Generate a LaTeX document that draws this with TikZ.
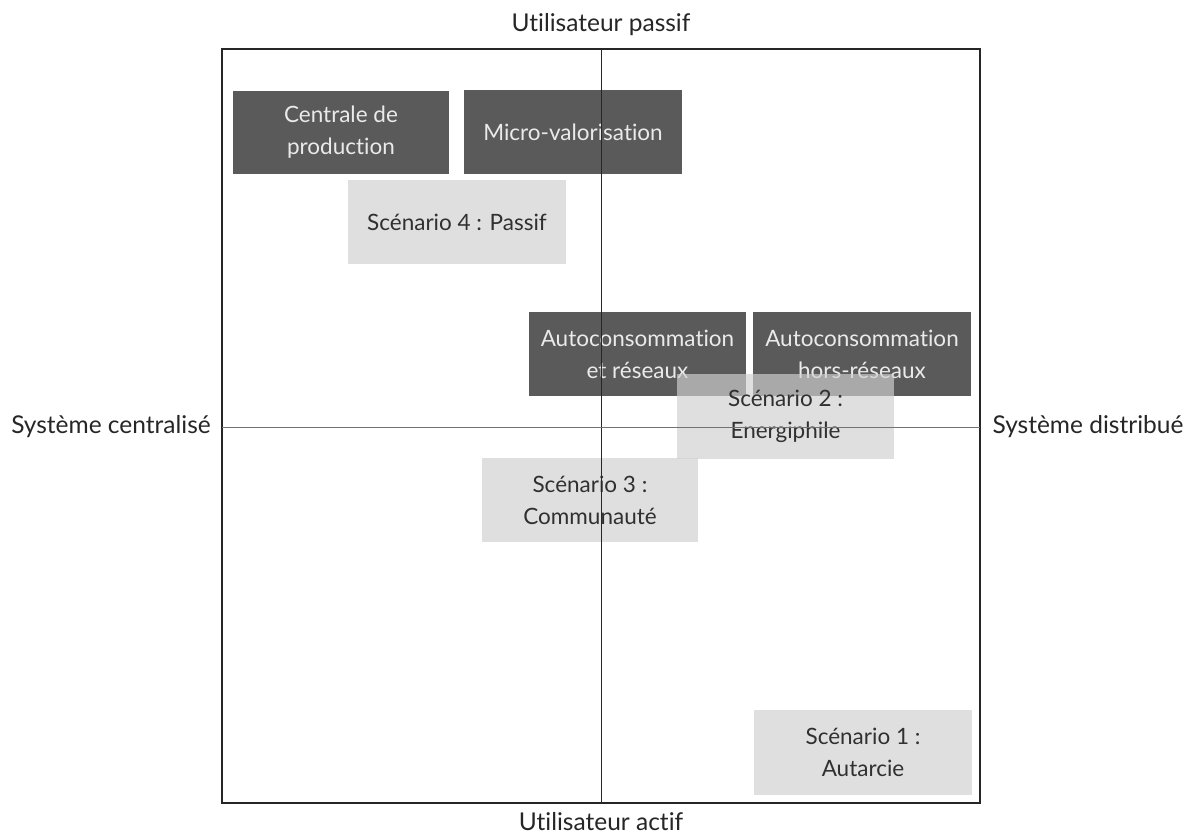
\documentclass[tikz,border=0pt]{standalone}
\usepackage{fontspec}
\setmainfont{Lato}[Ligatures=NoCommon]
\definecolor{darkbox}{HTML}{5A5A5A}
\definecolor{lightbox}{HTML}{D0D0D0}
\definecolor{darktext}{HTML}{EAEAEA}
\definecolor{lighttext}{HTML}{303030}
\begin{document}
\begin{tikzpicture}[x=1pt,y=-1pt,
  every node/.style={font=\fontsize{22.5}{32}\selectfont},
  darkbx/.style={rectangle, fill=darkbox, text=darktext, inner sep=0pt, align=center},
  lightbx/.style={rectangle, fill=lightbox, fill opacity=0.67, text opacity=1, text=lighttext, inner sep=0pt, align=center},
  axislabel/.style={text=black!85, font=\fontsize{24.5}{30}\selectfont}]
\useasboundingbox (0,0) rectangle (1195,838);
% dark boxes
\node[darkbx, minimum width=216pt, minimum height=83pt] (cp) at (341,132.5) {Centrale de\\production};
\node[darkbx, minimum width=218pt, minimum height=84pt] (mv) at (573,132) {Micro-valorisation};
\node[darkbx, minimum width=217pt, minimum height=84pt] (ar) at (637.5,354) {Autoconsommation\\et réseaux};
\node[darkbx, minimum width=218pt, minimum height=84pt] (ahr) at (862,354) {Autoconsommation\\hors-réseaux};
% light boxes
\node[lightbx, minimum width=218pt, minimum height=84pt] (s4) at (457,222) {Scénario 4 : Passif};
\node[lightbx, minimum width=217pt, minimum height=85pt] (s2) at (785.5,416.5) {Scénario 2 :\\Energiphile};
\node[lightbx, minimum width=216pt, minimum height=84pt] (s3) at (590,500) {Scénario 3 :\\Communauté};
\node[lightbx, minimum width=218pt, minimum height=85pt] (s1) at (863,752.5) {Scénario 1 :\\Autarcie};
% frame and axes
\coordinate (tl) at (222,49);
\coordinate (br) at (980,803);
\coordinate (tm) at (601,49);
\coordinate (bm) at (601,803);
\coordinate (lm) at (222,427);
\coordinate (rm) at (980,427);
\draw[black!85, line width=1.1pt] (tl) rectangle (br);
\draw[black!85, line width=0.9pt] (tm) -- (bm);
\draw[black!55, line width=1pt] (lm) -- (rm);
% axis labels
\node[axislabel] (top) at (601,25) {Utilisateur passif};
\node[axislabel] (bot) at (601,822) {Utilisateur actif};
\node[axislabel] (left) at (111,427) {Système centralisé};
\node[axislabel] (right) at (1088,427) {Système distribué};
\end{tikzpicture}
\end{document}
